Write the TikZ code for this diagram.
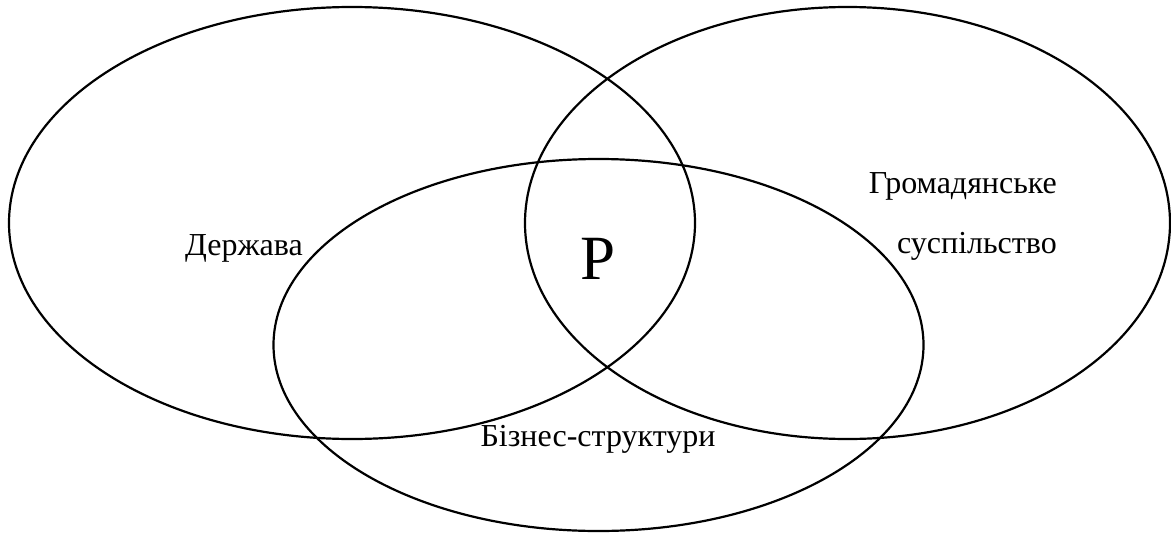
\documentclass[tikz,border=0pt]{standalone}
\usepackage{fontspec}
\setmainfont{Liberation Serif}
\usetikzlibrary{shapes.geometric}
\begin{document}
\begin{tikzpicture}[x=1pt,y=-1pt,
  venn/.style={ellipse, draw=black, line width=2.2pt, inner sep=0pt},
  lbl/.style={inner sep=0pt, font=\fontsize{32}{38}\selectfont},
  big/.style={inner sep=0pt, font=\fontsize{63}{70}\selectfont}]
\useasboundingbox (0,0) rectangle (1171,533);
\node[venn, minimum width=686pt, minimum height=432pt] (state) at (352,223) {};
\node[venn, minimum width=645pt, minimum height=432pt] (civil) at (847.5,223) {};
\node[venn, minimum width=650pt, minimum height=372pt] (biz) at (598.5,345) {};
\node[lbl, anchor=base west] (tstate) at (185,255) {Держава};
\node[lbl, anchor=base east] (tcivil1) at (1057,193) {Громадянське};
\node[lbl, anchor=base east] (tcivil2) at (1057,253) {суспільство};
\node[lbl, anchor=base] (tbiz) at (598,446) {Бізнес-структури};
\node[big, anchor=base] (tp) at (598,279) {P};
\end{tikzpicture}
\end{document}
